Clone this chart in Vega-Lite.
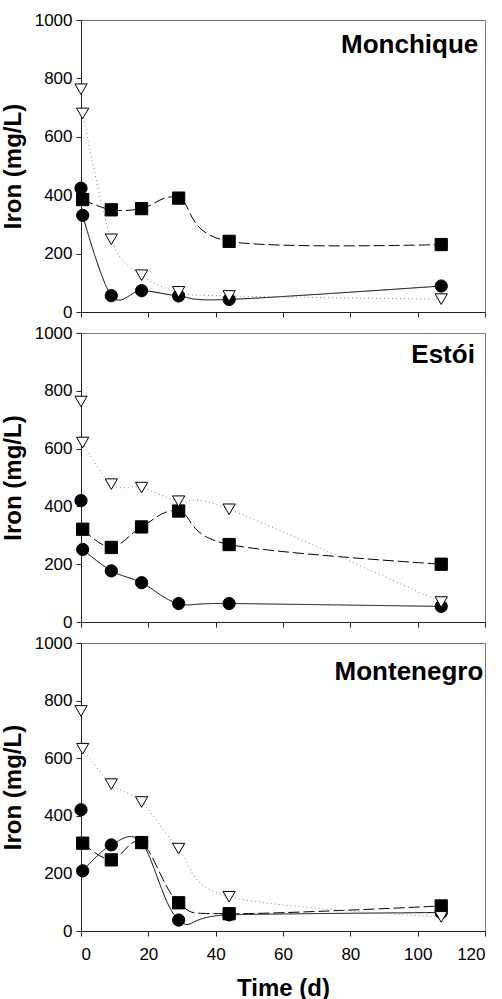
{
  "$schema": "https://vega.github.io/schema/vega-lite/v6.json",
  "padding": {"top": 10, "left": 0, "right": 4, "bottom": 2},
  "background": "white",
  "spacing": 2,
  "config": {
    "font": "Liberation Sans",
    "view": {"stroke": "#777", "strokeWidth": 1},
    "axis": {
      "grid": false,
      "labelFont": "Liberation Sans",
      "labelFontSize": 17,
      "labelColor": "black",
      "titleFont": "Liberation Sans",
      "titleFontSize": 24,
      "titleFontWeight": "bold",
      "titleColor": "black",
      "domainColor": "#222",
      "tickColor": "#222",
      "tickSize": 5,
      "labelPadding": 4,
      "format": "d"
    }
  },
  "datasets": {
    "iron": [
      {"site": "Monchique", "series": "S1", "day": 0, "value": 424, "connected": false},
      {"site": "Monchique", "series": "S1", "day": 0.5, "value": 331, "connected": true},
      {"site": "Monchique", "series": "S1", "day": 9, "value": 56, "connected": true},
      {"site": "Monchique", "series": "S1", "day": 18, "value": 73, "connected": true},
      {"site": "Monchique", "series": "S1", "day": 29, "value": 55, "connected": true},
      {"site": "Monchique", "series": "S1", "day": 44, "value": 43, "connected": true},
      {"site": "Monchique", "series": "S1", "day": 107, "value": 89, "connected": true},
      {"site": "Monchique", "series": "S2", "day": 0.5, "value": 385, "connected": true},
      {"site": "Monchique", "series": "S2", "day": 9, "value": 350, "connected": true},
      {"site": "Monchique", "series": "S2", "day": 18, "value": 354, "connected": true},
      {"site": "Monchique", "series": "S2", "day": 29, "value": 390, "connected": true},
      {"site": "Monchique", "series": "S2", "day": 44, "value": 242, "connected": true},
      {"site": "Monchique", "series": "S2", "day": 107, "value": 231, "connected": true},
      {"site": "Monchique", "series": "S3", "day": 0, "value": 763, "connected": false},
      {"site": "Monchique", "series": "S3", "day": 0.5, "value": 680, "connected": true},
      {"site": "Monchique", "series": "S3", "day": 9, "value": 249, "connected": true},
      {"site": "Monchique", "series": "S3", "day": 18, "value": 126, "connected": true},
      {"site": "Monchique", "series": "S3", "day": 29, "value": 69, "connected": true},
      {"site": "Monchique", "series": "S3", "day": 44, "value": 55, "connected": true},
      {"site": "Monchique", "series": "S3", "day": 107, "value": 44, "connected": true},

      {"site": "Estói", "series": "S1", "day": 0, "value": 420, "connected": false},
      {"site": "Estói", "series": "S1", "day": 0.5, "value": 251, "connected": true},
      {"site": "Estói", "series": "S1", "day": 9, "value": 177, "connected": true},
      {"site": "Estói", "series": "S1", "day": 18, "value": 136, "connected": true},
      {"site": "Estói", "series": "S1", "day": 29, "value": 64, "connected": true},
      {"site": "Estói", "series": "S1", "day": 44, "value": 64, "connected": true},
      {"site": "Estói", "series": "S1", "day": 107, "value": 54, "connected": true},
      {"site": "Estói", "series": "S2", "day": 0.5, "value": 321, "connected": true},
      {"site": "Estói", "series": "S2", "day": 9, "value": 258, "connected": true},
      {"site": "Estói", "series": "S2", "day": 18, "value": 329, "connected": true},
      {"site": "Estói", "series": "S2", "day": 29, "value": 384, "connected": true},
      {"site": "Estói", "series": "S2", "day": 44, "value": 268, "connected": true},
      {"site": "Estói", "series": "S2", "day": 107, "value": 200, "connected": true},
      {"site": "Estói", "series": "S3", "day": 0, "value": 763, "connected": false},
      {"site": "Estói", "series": "S3", "day": 0.5, "value": 621, "connected": true},
      {"site": "Estói", "series": "S3", "day": 9, "value": 477, "connected": true},
      {"site": "Estói", "series": "S3", "day": 18, "value": 465, "connected": true},
      {"site": "Estói", "series": "S3", "day": 29, "value": 418, "connected": true},
      {"site": "Estói", "series": "S3", "day": 44, "value": 390, "connected": true},
      {"site": "Estói", "series": "S3", "day": 107, "value": 69, "connected": true},

      {"site": "Montenegro", "series": "S1", "day": 0, "value": 421, "connected": false},
      {"site": "Montenegro", "series": "S1", "day": 0.5, "value": 209, "connected": true},
      {"site": "Montenegro", "series": "S1", "day": 9, "value": 299, "connected": true},
      {"site": "Montenegro", "series": "S1", "day": 18, "value": 307, "connected": true},
      {"site": "Montenegro", "series": "S1", "day": 29, "value": 38, "connected": true},
      {"site": "Montenegro", "series": "S1", "day": 44, "value": 56, "connected": true},
      {"site": "Montenegro", "series": "S1", "day": 107, "value": 64, "connected": true},
      {"site": "Montenegro", "series": "S2", "day": 0.5, "value": 305, "connected": true},
      {"site": "Montenegro", "series": "S2", "day": 9, "value": 247, "connected": true},
      {"site": "Montenegro", "series": "S2", "day": 18, "value": 307, "connected": true},
      {"site": "Montenegro", "series": "S2", "day": 29, "value": 98, "connected": true},
      {"site": "Montenegro", "series": "S2", "day": 44, "value": 60, "connected": true},
      {"site": "Montenegro", "series": "S2", "day": 107, "value": 87, "connected": true},
      {"site": "Montenegro", "series": "S3", "day": 0, "value": 764, "connected": false},
      {"site": "Montenegro", "series": "S3", "day": 0.5, "value": 633, "connected": true},
      {"site": "Montenegro", "series": "S3", "day": 9, "value": 510, "connected": true},
      {"site": "Montenegro", "series": "S3", "day": 18, "value": 448, "connected": true},
      {"site": "Montenegro", "series": "S3", "day": 29, "value": 286, "connected": true},
      {"site": "Montenegro", "series": "S3", "day": 44, "value": 119, "connected": true},
      {"site": "Montenegro", "series": "S3", "day": 107, "value": 49, "connected": true}
    ]
  },
  "vconcat": [
    {
      "width": 404, "height": 292,
      "data": {"name": "iron"},
      "transform": [{"filter": "datum.site === 'Monchique'"}],
      "encoding": {
        "x": {"field": "day", "type": "quantitative", "scale": {"domain": [0, 120], "nice": false}, "axis": {"values": [0, 20, 40, 60, 80, 100, 120], "labels": false, "title": null}},
        "y": {"field": "value", "type": "quantitative", "scale": {"domain": [0, 1000], "nice": false}, "axis": {"values": [0, 200, 400, 600, 800, 1000], "title": "Iron (mg/L)", "titlePadding": 9}}
      },
      "layer": [
        {
          "transform": [{"filter": "datum.connected"}],
          "mark": {"type": "line", "interpolate": "cardinal", "strokeWidth": 1},
          "encoding": {
            "detail": {"field": "series"},
            "strokeDash": {"field": "series", "type": "nominal", "scale": {"domain": ["S1", "S2", "S3"], "range": [[1, 0], [11, 4], [1, 3]]}, "legend": null},
            "color": {"field": "series", "type": "nominal", "scale": {"domain": ["S1", "S2", "S3"], "range": ["black", "black", "#888"]}, "legend": null}
          }
        },
        {
          "mark": {"type": "point", "filled": false, "strokeWidth": 1, "opacity": 1, "size": 150},
          "encoding": {
            "shape": {"field": "series", "type": "nominal", "scale": {"domain": ["S1", "S2", "S3"], "range": ["circle", "square", "triangle-down"]}, "legend": null},
            "fill": {"field": "series", "type": "nominal", "scale": {"domain": ["S1", "S2", "S3"], "range": ["black", "black", "white"]}, "legend": null},
            "stroke": {"value": "black"}
          }
        },
        {
          "transform": [{"filter": "datum.series === 'S1' && datum.day === 0"}],
          "mark": {"type": "text", "font": "Liberation Sans", "fontSize": 26, "fontWeight": "bold", "align": "right", "baseline": "alphabetic", "fill": "black"},
          "encoding": {"x": {"datum": 118}, "y": {"datum": 887}, "text": {"field": "site", "type": "nominal"}}
        }
      ]
    },
    {
      "width": 404, "height": 289,
      "data": {"name": "iron"},
      "transform": [{"filter": "datum.site === 'Estói'"}],
      "encoding": {
        "x": {"field": "day", "type": "quantitative", "scale": {"domain": [0, 120], "nice": false}, "axis": {"values": [0, 20, 40, 60, 80, 100, 120], "labels": false, "title": null}},
        "y": {"field": "value", "type": "quantitative", "scale": {"domain": [0, 1000], "nice": false}, "axis": {"values": [0, 200, 400, 600, 800, 1000], "title": "Iron (mg/L)", "titlePadding": 9}}
      },
      "layer": [
        {
          "transform": [{"filter": "datum.connected"}],
          "mark": {"type": "line", "interpolate": "cardinal", "strokeWidth": 1},
          "encoding": {
            "detail": {"field": "series"},
            "strokeDash": {"field": "series", "type": "nominal", "scale": {"domain": ["S1", "S2", "S3"], "range": [[1, 0], [11, 4], [1, 3]]}, "legend": null},
            "color": {"field": "series", "type": "nominal", "scale": {"domain": ["S1", "S2", "S3"], "range": ["black", "black", "#888"]}, "legend": null}
          }
        },
        {
          "mark": {"type": "point", "filled": false, "strokeWidth": 1, "opacity": 1, "size": 150},
          "encoding": {
            "shape": {"field": "series", "type": "nominal", "scale": {"domain": ["S1", "S2", "S3"], "range": ["circle", "square", "triangle-down"]}, "legend": null},
            "fill": {"field": "series", "type": "nominal", "scale": {"domain": ["S1", "S2", "S3"], "range": ["black", "black", "white"]}, "legend": null},
            "stroke": {"value": "black"}
          }
        },
        {
          "transform": [{"filter": "datum.series === 'S1' && datum.day === 0"}],
          "mark": {"type": "text", "font": "Liberation Sans", "fontSize": 26, "fontWeight": "bold", "align": "right", "baseline": "alphabetic", "fill": "black"},
          "encoding": {"x": {"datum": 117}, "y": {"datum": 896}, "text": {"field": "site", "type": "nominal"}}
        }
      ]
    },
    {
      "width": 404, "height": 288,
      "data": {"name": "iron"},
      "transform": [{"filter": "datum.site === 'Montenegro'"}],
      "encoding": {
        "x": {"field": "day", "type": "quantitative", "scale": {"domain": [0, 120], "nice": false}, "axis": {"values": [0, 20, 40, 60, 80, 100, 120], "title": "Time (d)", "labelPadding": 10, "titlePadding": 14}},
        "y": {"field": "value", "type": "quantitative", "scale": {"domain": [0, 1000], "nice": false}, "axis": {"values": [0, 200, 400, 600, 800, 1000], "title": "Iron  (mg/L)", "titlePadding": 9}}
      },
      "layer": [
        {
          "transform": [{"filter": "datum.connected"}],
          "mark": {"type": "line", "interpolate": "cardinal", "strokeWidth": 1},
          "encoding": {
            "detail": {"field": "series"},
            "strokeDash": {"field": "series", "type": "nominal", "scale": {"domain": ["S1", "S2", "S3"], "range": [[1, 0], [11, 4], [1, 3]]}, "legend": null},
            "color": {"field": "series", "type": "nominal", "scale": {"domain": ["S1", "S2", "S3"], "range": ["black", "black", "#888"]}, "legend": null}
          }
        },
        {
          "mark": {"type": "point", "filled": false, "strokeWidth": 1, "opacity": 1, "size": 150},
          "encoding": {
            "shape": {"field": "series", "type": "nominal", "scale": {"domain": ["S1", "S2", "S3"], "range": ["circle", "square", "triangle-down"]}, "legend": null},
            "fill": {"field": "series", "type": "nominal", "scale": {"domain": ["S1", "S2", "S3"], "range": ["black", "black", "white"]}, "legend": null},
            "stroke": {"value": "black"}
          }
        },
        {
          "transform": [{"filter": "datum.series === 'S1' && datum.day === 0"}],
          "mark": {"type": "text", "font": "Liberation Sans", "fontSize": 26, "fontWeight": "bold", "align": "right", "baseline": "alphabetic", "fill": "black"},
          "encoding": {"x": {"datum": 119.5}, "y": {"datum": 871}, "text": {"field": "site", "type": "nominal"}}
        }
      ]
    }
  ]
}
